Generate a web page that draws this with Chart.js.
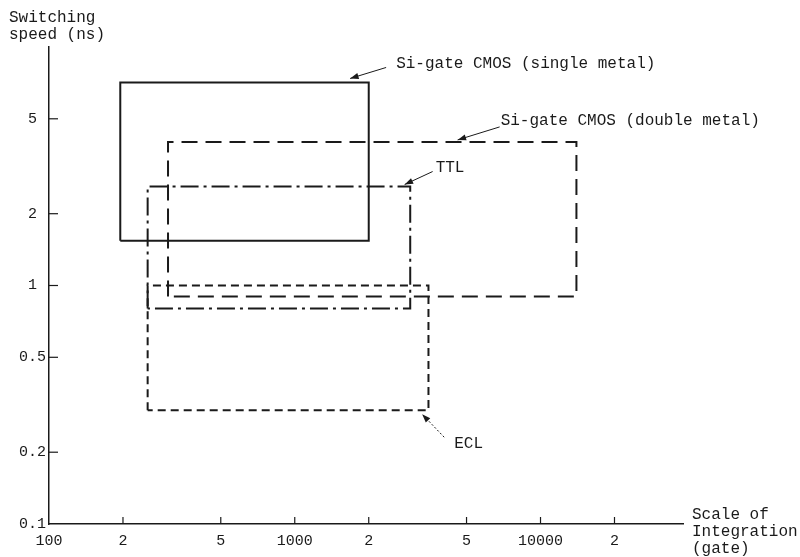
<!DOCTYPE html>
<html>
<head>
<meta charset="utf-8">
<script src="https://cdn.jsdelivr.net/npm/chart.js@4.4.1/dist/chart.umd.min.js"></script>
<style>
    html, body { margin: 0; padding: 0; background: #fff; }
    #wrap { width: 800px; height: 557px; }
</style>
</head>
<body>
<div id="wrap"><canvas id="speedChart" width="800" height="557"></canvas></div>
<script>
// Data (gate count on x, switching speed in ns on y)
const boxNames = ['Si-gate CMOS (single metal)', 'Si-gate CMOS (double metal)', 'TTL', 'ECL'];
const boxGateMin = [195, 305, 252, 252];
const boxGateMax = [2000, 14000, 2950, 3500];
const boxSpeedMin = [1.54, 0.9, 0.8, 0.3];
const boxSpeedMax = [7.1, 4, 2.6, 1.0];

const xTickValues = [100, 200, 500, 1000, 2000, 5000, 10000, 20000];
const xTickLabels = ['100', '2', '5', '1000', '2', '5', '10000', '2'];
const yTickValues = [0.1, 0.2, 0.5, 1, 2, 5];
const yTickLabels = ['0.1', '0.2', '0.5', '1', '2', '5'];

// line style per box
const boxDash = [[], [16, 8], [18, 5, 3, 5], [8, 5]];

// annotation: arrow tip in data units, text and tail offsets in pixels
const notes = [
    { text: boxNames[0], tip: [1680, 7.1], tipOff: [0, -4], tail: [36, -15], txt: [46, -19], dotted: false },
    { text: boxNames[1], tip: [4600, 4], tipOff: [0, -2], tail: [42, -15], txt: [43, -21], dotted: false },
    { text: boxNames[2], tip: [2800, 2.6], tipOff: [0, -2], tail: [28, -15], txt: [31, -19], dotted: false },
    { text: boxNames[3], tip: [3300, 0.3], tipOff: [0, 4], tail: [22, 27], txt: [32, 34], dotted: true }
];

const FONT = "'Liberation Mono', 'DejaVu Sans Mono', monospace";
const INK = '#1a1a1a';

const datasets = boxNames.map((name, i) => ({
    label: name,
    data: [
        { x: boxGateMin[i], y: boxSpeedMin[i] },
        { x: boxGateMin[i], y: boxSpeedMax[i] },
        { x: boxGateMax[i], y: boxSpeedMax[i] },
        { x: boxGateMax[i], y: boxSpeedMin[i] },
        { x: boxGateMin[i], y: boxSpeedMin[i] }
    ],
    showLine: true,
    borderColor: INK,
    borderWidth: 2,
    borderDash: boxDash[i],
    pointRadius: 0,
    fill: false,
    tension: 0
}));

// inner tick marks, axis titles and the arrow labels
const decorPlugin = {
    id: 'decor',
    afterDraw(chart) {
        const c = chart.ctx;
        const xs = chart.scales.x, ys = chart.scales.y;
        const area = chart.chartArea;
        c.save();
        c.strokeStyle = INK;
        c.lineWidth = 1.2;
        c.setLineDash([]);
        // y ticks pointing into the plot
        yTickValues.slice(1).forEach(v => {
            const py = ys.getPixelForValue(v);
            c.beginPath();
            c.moveTo(area.left, py);
            c.lineTo(area.left + 9, py);
            c.stroke();
        });
        // x ticks pointing up
        xTickValues.slice(1).forEach(v => {
            const px = xs.getPixelForValue(v);
            c.beginPath();
            c.moveTo(px, area.bottom);
            c.lineTo(px, area.bottom - 7);
            c.stroke();
        });

        // axis titles
        c.fillStyle = INK;
        c.font = '16px ' + FONT;
        c.textAlign = 'left';
        c.textBaseline = 'middle';
        c.fillText('Switching', 9, 18);
        c.fillText('speed (ns)', 9, 35);
        c.fillText('Scale of', 692, 515);
        c.fillText('Integration', 692, 532);
        c.fillText('(gate)', 692, 549);

        // annotations
        notes.forEach(n => {
            const tx = xs.getPixelForValue(n.tip[0]) + n.tipOff[0];
            const ty = ys.getPixelForValue(n.tip[1]) + n.tipOff[1];
            const ax = tx + n.tail[0] - n.tipOff[0];
            const ay = ty + n.tail[1] - n.tipOff[1];
            c.lineWidth = 1;
            c.setLineDash(n.dotted ? [2, 2] : []);
            c.beginPath();
            c.moveTo(ax, ay);
            c.lineTo(tx, ty);
            c.stroke();
            // arrow head
            const ang = Math.atan2(ty - ay, tx - ax);
            const len = 9, wid = 0.35;
            c.setLineDash([]);
            c.beginPath();
            c.moveTo(tx, ty);
            c.lineTo(tx - len * Math.cos(ang - wid), ty - len * Math.sin(ang - wid));
            c.lineTo(tx - len * Math.cos(ang + wid), ty - len * Math.sin(ang + wid));
            c.closePath();
            c.fill();
            c.fillText(n.text, tx - n.tipOff[0] + n.txt[0], ty - n.tipOff[1] + n.txt[1]);
        });
        c.restore();
    }
};

const ctx = document.getElementById('speedChart').getContext('2d');

const speedChart = new Chart(ctx, {
    type: 'scatter',
    data: { datasets: datasets },
    options: {
        responsive: false,
        animation: false,
        layout: {
            padding: { top: 47, right: 117, left: 0, bottom: 0 }
        },
        scales: {
            x: {
                type: 'logarithmic',
                min: 100,
                max: 38000,
                afterBuildTicks: scale => {
                    scale.ticks = xTickValues.map(v => ({ value: v }));
                },
                afterFit: scale => { scale.height = 33; },
                ticks: {
                    autoSkip: false,
                    maxRotation: 0,
                    padding: 8,
                    color: INK,
                    font: { family: FONT, size: 15 },
                    callback: (val, idx) => xTickLabels[idx]
                },
                grid: { drawOnChartArea: false, drawTicks: false },
                border: { display: true, color: INK, width: 1.5 }
            },
            y: {
                type: 'logarithmic',
                min: 0.1,
                max: 10,
                afterBuildTicks: scale => {
                    scale.ticks = yTickValues.map(v => ({ value: v }));
                },
                afterFit: scale => { scale.width = 49; },
                ticks: {
                    autoSkip: false,
                    padding: 3,
                    crossAlign: 'center',
                    color: INK,
                    font: { family: FONT, size: 15 },
                    callback: (val, idx) => yTickLabels[idx]
                },
                grid: { drawOnChartArea: false, drawTicks: false },
                border: { display: true, color: INK, width: 1.5 }
            }
        },
        plugins: {
            legend: { display: false },
            tooltip: { enabled: false }
        }
    },
    plugins: [decorPlugin]
});
</script>
</body>
</html>
